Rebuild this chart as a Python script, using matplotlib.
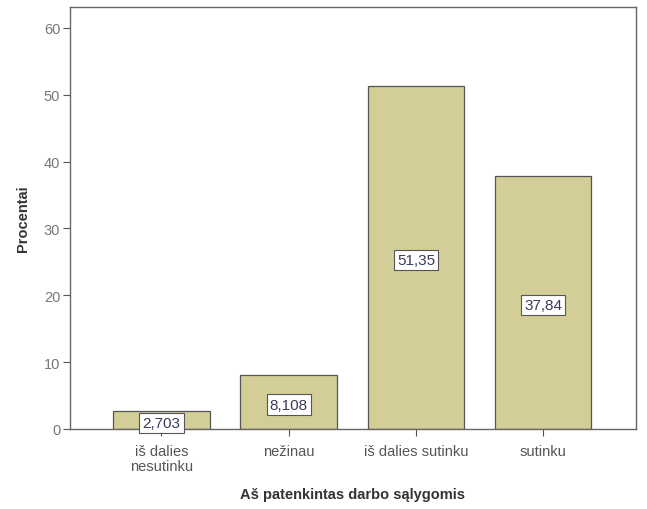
import numpy as np
import matplotlib.pyplot as plt

plt.rcParams["font.family"] = ["Liberation Sans", "DejaVu Sans"]

categories = ["iš dalies\nnesutinku", "nežinau", "iš dalies sutinku", "sutinku"]
values = [2.703, 8.108, 51.35, 37.84]
labels = ["2,703", "8,108", "51,35", "37,84"]

fig = plt.figure(figsize=(6.47, 5.1), dpi=100)
ax = fig.add_axes([0.108, 0.157, 0.875, 0.827])

x = np.arange(len(categories))
ax.bar(x, values, width=0.76, color="#d3ce97", edgecolor="#555555", linewidth=0.9)

for xi, v, lab in zip(x, values, labels):
    ax.text(xi, v / 2 - 0.4, lab, ha="center", va="center", fontsize=11, color="#3a3a5a",
            bbox=dict(boxstyle="square,pad=0.2", fc="white", ec="#555555", lw=0.8))

ax.set_xlim(-0.72, 3.73)
ax.set_ylim(0, 63.1)
ax.set_yticks(range(0, 70, 10))
ax.set_xticks(x)
ax.set_xticklabels(categories, fontsize=10.5, color="#555555", linespacing=1.05)
ax.tick_params(axis="y", labelsize=10.5, labelcolor="#777777", length=5, color="#555555", pad=2)
ax.tick_params(axis="x", length=5, color="#555555", pad=6)
for s in ax.spines.values():
    s.set_color("#666666")
    s.set_linewidth(1.0)

ax.set_ylabel("Procentai", fontsize=10.5, fontweight="bold", color="#333333", labelpad=10)
ax.set_xlabel("Aš patenkintas darbo sąlygomis", fontsize=10.5, fontweight="bold", color="#333333", labelpad=10)

fig.savefig("out.png", dpi=100)
